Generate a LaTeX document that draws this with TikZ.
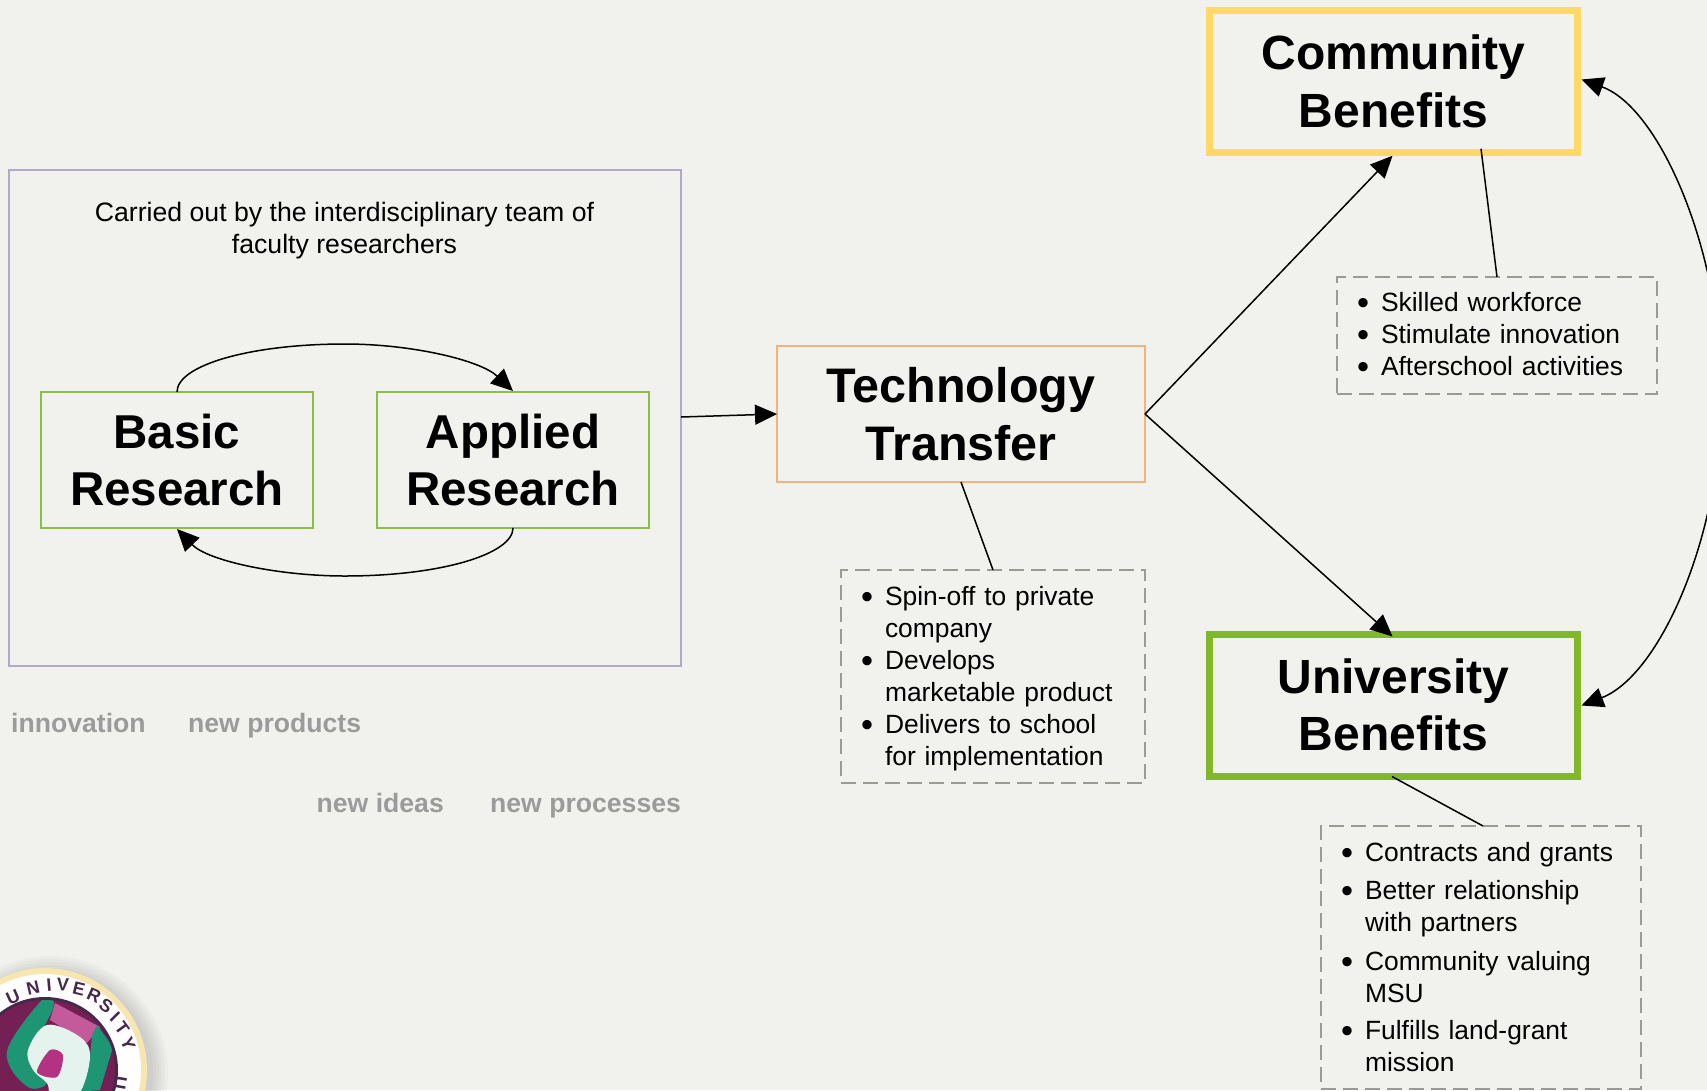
\documentclass[tikz,border=0pt]{standalone}
\usepackage{fontspec}
\setmainfont{Liberation Sans}
\usetikzlibrary{arrows.meta,calc}
\definecolor{bgc}{RGB}{241,241,237}
\definecolor{ybox}{RGB}{255,217,102}
\definecolor{gbox}{RGB}{128,184,42}
\definecolor{lgreen}{RGB}{140,190,70}
\definecolor{orbox}{RGB}{246,178,120}
\definecolor{pbox}{RGB}{178,168,200}
\definecolor{dgray}{RGB}{155,155,150}
\definecolor{lbl}{RGB}{155,155,155}
\definecolor{logog}{RGB}{30,150,115}
\definecolor{logom}{RGB}{180,50,130}
\definecolor{logod}{RGB}{70,40,75}
\newcommand{\bl}[1]{\makebox[24pt][l]{\raisebox{-2.6pt}{\scalebox{1.3}{•}}}#1}
\newcommand{\cl}[1]{\hspace*{24pt}#1}
\tikzset{
  title/.style={font=\fontsize{48}{57.5}\selectfont\bfseries,align=center,outer sep=0pt,inner sep=0pt},
  thick box/.style={title,draw,line width=7pt},
  thin box/.style={title,draw,line width=2pt},
  dashbox/.style={draw=dgray,line width=2pt,dash pattern=on 15pt off 7pt,outer sep=0pt,inner xsep=20pt,inner ysep=0pt,
    font=\fontsize{26.4}{32}\selectfont,align=left},
  conn/.style={line width=1.5pt,draw=black},
  arr/.style={conn,-{Triangle[length=22pt,width=20pt]}},
  darr/.style={conn,{Triangle[length=22pt,width=20pt]}-{Triangle[length=22pt,width=20pt]}},
  glabel/.style={font=\fontsize{26.6}{32}\selectfont\bfseries,text=lbl,anchor=base west,inner sep=0pt},
  letter/.style={font=\fontsize{18}{18}\selectfont\bfseries,text=logod,inner sep=0pt},
}
\begin{document}
\begin{tikzpicture}[x=1pt,y=-1pt]
\useasboundingbox (0,0) rectangle (1707,1090);
\clip (0,0) rectangle (1707,1090);
\fill[bgc] (0,0) rectangle (1707,1090);

% frame with research boxes
\node[draw=pbox,line width=2pt,minimum width=672pt,minimum height=496pt,outer sep=0pt] (team) at (345,418) {};
\node[font=\fontsize{26.65}{32}\selectfont,align=center,inner sep=0pt] (teamtext) at (344.5,231) {Carried out by the interdisciplinary team of\\faculty researchers};
\node[thin box,draw=lgreen,minimum width=272pt,minimum height=136pt,font=\fontsize{47.5}{57.5}\selectfont\bfseries] (basic) at (177,460) {Basic\\Research};
\node[thin box,draw=lgreen,minimum width=272pt,minimum height=136pt,font=\fontsize{47.5}{57.5}\selectfont\bfseries] (applied) at (513,460) {Applied\\Research};

% main boxes
\node[thin box,draw=orbox,minimum width=368pt,minimum height=136pt,font=\fontsize{48.5}{57.5}\selectfont\bfseries] (tech) at (961,414) {Technology\\Transfer};
\node[thick box,draw=ybox,minimum width=368pt,minimum height=142.5pt] (comm) at (1393.5,81.5) {Community\\Benefits\rule[-1.2pt]{0pt}{0pt}};
\node[thick box,draw=gbox,minimum width=368pt,minimum height=142pt] (univ) at (1393.5,705.5) {University\\Benefits\rule[-2pt]{0pt}{0pt}};

% dashed lists
\node[dashbox,minimum width=320pt,minimum height=117pt,text width=280pt] (commlist) at (1497,335.5)
  {\bl{Skilled workforce}\\\bl{Stimulate innovation}\\\bl{Afterschool activities}};
\node[dashbox,minimum width=304pt,minimum height=213pt,text width=264pt] (techlist) at (993,676.5)
  {\rule{0pt}{23.6pt}\bl{Spin-off to private}\\\cl{company}\\\bl{Develops}\\\cl{marketable product}\\\bl{Delivers to school}\\\cl{for implementation}};
\node[dashbox,minimum width=320pt,minimum height=263pt,text width=280pt] (univlist) at (1481,957.5)
  {\bl{Contracts and grants}\\[6.5pt]\bl{Better relationship}\\\cl{with partners}\\[6.5pt]\bl{Community valuing}\\\cl{MSU}\\[5pt]\bl{Fulfills land-grant}\\\cl{mission\rule[-1.2pt]{0pt}{0pt}}};

% connectors
\coordinate (topmid) at ($(basic.north)!.5!(applied.north)+(0,-48)$);
\coordinate (botmid) at ($(basic.south)!.5!(applied.south)+(0,48)$);
\coordinate (rightmid) at ($(comm.east)!.5!(univ.east)+(144,0)$);
\draw[arr] (basic.north) .. controls ([yshift=27pt]basic.north) and ([xshift=-94pt]topmid) .. (topmid)
  .. controls ([xshift=66pt]topmid) and ([xshift=-33pt,yshift=32pt]applied.north) .. ([yshift=1pt]applied.north);
\draw[arr] (applied.south) .. controls ([yshift=-26pt]applied.south) and ([xshift=96pt]botmid) .. (botmid)
  .. controls ([xshift=-66pt]botmid) and ([xshift=31pt,yshift=-33pt]basic.south) .. ([yshift=-1pt]basic.south);
\draw[arr] ([yshift=1pt]team.east) -- (tech.west);
\draw[arr] (tech.east) -- ([xshift=-1pt,yshift=-3pt]comm.south);
\draw[arr] (tech.east) -- ([xshift=-1pt,yshift=-2pt]univ.north);
\draw[conn] (tech.south) -- (techlist.north);
\draw[conn] ([xshift=87.5pt,yshift=4pt]comm.south) -- (commlist.north);
\draw[conn] ([xshift=-1.5pt]univ.south) -- ([xshift=2pt]univlist.north);
\draw[darr] ([xshift=4pt,yshift=2pt]comm.east) .. controls ([xshift=82pt,yshift=-26pt]comm.east) and ([yshift=143pt]rightmid) .. (rightmid)
  .. controls ([yshift=-143pt]rightmid) and ([xshift=82pt,yshift=30pt]univ.east) .. ([xshift=4pt]univ.east);

% grey labels
\node[glabel] (l1) at (11,732) {innovation};
\node[glabel] (l2) at (188,732) {new products};
\node[glabel] (l3) at (316.5,812) {new ideas};
\node[glabel] (l4) at (490,812) {new processes};

% logo
\foreach \r in {118,115,112,109,106,103}{\fill[black,opacity=.025] (50,1074) circle[radius=\r pt];}
\fill[ybox!45!bgc] (45,1070) circle[radius=102pt];
\fill[white!96!bgc] (45,1070) circle[radius=96pt];
\fill[logod] (45,1070) circle[radius=73pt];
\begin{scope}
\clip (45,1070) circle[radius=70pt];
\fill[logom!65!black] (45,1070) circle[radius=70pt];
\fill[logom!80!white] (55,1003) -- (100,1027) -- (87,1043) -- (50,1020) -- cycle;
\fill[logog] plot[smooth cycle,tension=.6] coordinates {(43,999) (10,1043) (10,1067) (30,1088) (47,1083) (33,1070) (28,1050) (45,1025) (54,1003)};
\fill[logog] (97,1025) -- (113,1047) -- (100,1090) -- (78,1092) -- (90,1057) -- (92,1035) -- cycle;
\fill[white!88!logog] plot[smooth cycle,tension=.6] coordinates {(47,1025) (80,1037) (90,1057) (78,1095) (52,1095) (47,1083) (33,1070) (28,1050)};
\fill[logom] plot[smooth cycle,tension=.5] coordinates {(37,1072) (50,1050) (63,1055) (57,1077)};
\end{scope}
\node[letter,rotate=24] (logoA) at (13,997) {U};
\node[letter,rotate=13] (logoB) at (33,988) {N};
\node[letter,rotate=5] (logoC) at (49,985) {I};
\node[letter,rotate=-3] (logoD) at (63,985) {V};
\node[letter,rotate=-14] (logoE) at (79,989) {E};
\node[letter,rotate=-24] (logoF) at (94,995) {R};
\node[letter,rotate=-35] (logoG) at (106,1006) {S};
\node[letter,rotate=-45] (logoH) at (115,1017) {I};
\node[letter,rotate=-54] (logoI) at (122,1028) {T};
\node[letter,rotate=-68] (logoJ) at (128,1044) {Y};
\node[letter,rotate=-100] (logoK) at (120,1083) {U};
\end{tikzpicture}
\end{document}
